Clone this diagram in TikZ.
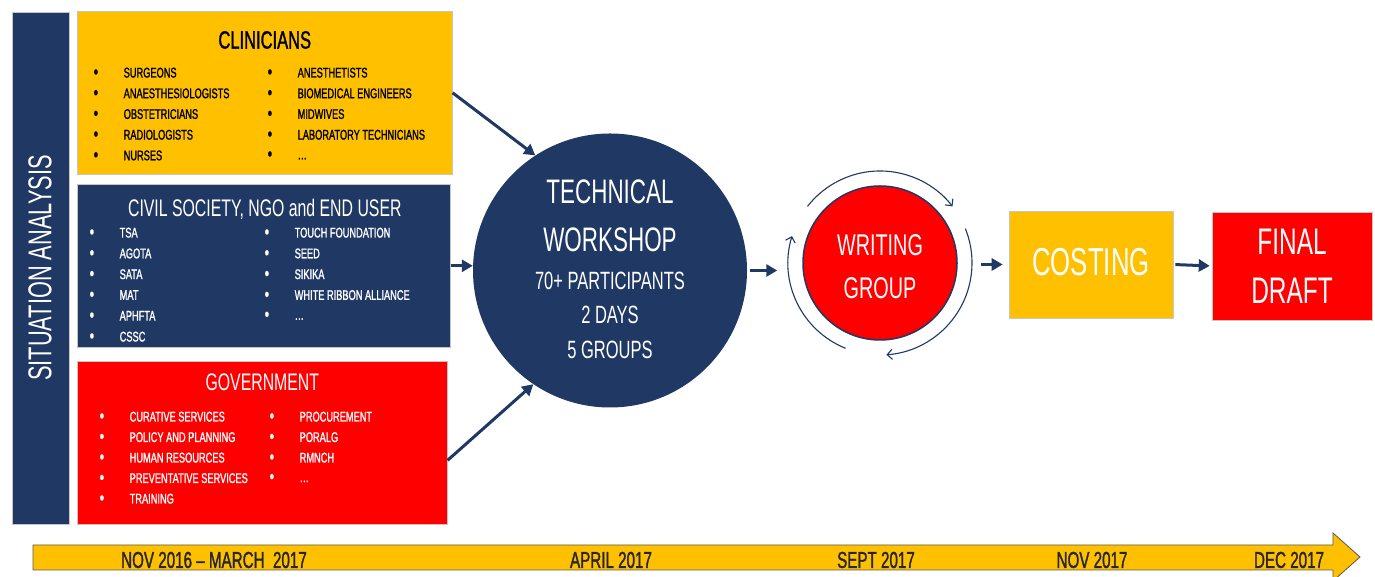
\documentclass[tikz,border=0pt]{standalone}
\usepackage{fontspec}
\setmainfont{Liberation Sans}[FakeStretch=0.66]
\newfontfamily\heavy{Liberation Sans}[FakeStretch=0.66, FakeBold=1.3]
\usetikzlibrary{arrows.meta, positioning}
\definecolor{navy}{HTML}{203864}
\definecolor{gold}{HTML}{FFC000}
\definecolor{scarlet}{HTML}{FF0000}
\newcommand{\bul}[1]{\makebox[30pt][l]{\raisebox{-0.8pt}{\fontsize{19}{19}\selectfont\textbullet}}#1}
\tikzset{
	panel/.style={rectangle, draw=gray!45, line width=0.6pt, inner sep=0pt},
	flow/.style={navy, line width=3pt, -{Triangle[length=11pt,width=12pt]}},
	turn/.style={navy, line width=1.1pt, -{Straight Barb[length=5pt,width=10pt]}},
	item/.style={anchor=west, inner sep=0pt, font=\heavy\fontsize{14}{16}\selectfont},
	txt/.style={inner sep=0pt},
}

\begin{document}
\begin{tikzpicture}[x=1pt,y=1pt]

\clip (0,0) rectangle (1375,577);
\fill[white] (0,0) rectangle (1375,577);

% left bar
\node [panel, fill=navy, anchor=north west, minimum width=57pt, minimum height=512pt] (sa) at (12,565) {};
\node [txt, rotate=90, white, font=\fontsize{33}{36}\selectfont] (sa-t) at (40,309) {SITUATION ANALYSIS};

% stakeholder groups
\node [panel, fill=gold, anchor=north west, minimum width=375pt, minimum height=163pt] (clin) at (77,566) {};
\node [panel, fill=navy, anchor=north west, minimum width=373pt, minimum height=163pt] (civ) at (77,393) {};
\node [panel, fill=scarlet, anchor=north west, minimum width=370pt, minimum height=163pt] (gov) at (77,216) {};

\node [txt, font=\heavy\fontsize{25}{28}\selectfont] (clin-t) at ([yshift=-29pt]clin.north) {CLINICIANS};
\node [txt, white, font=\fontsize{24}{28}\selectfont] (civ-t) at ([xshift=1pt,yshift=-25pt]civ.north) {CIVIL SOCIETY, NGO and END USER};
\node [txt, white, font=\fontsize{24}{28}\selectfont] (gov-t) at ([yshift=-21pt]gov.north) {GOVERNMENT};

\foreach \t [count=\r] in {SURGEONS, ANAESTHESIOLOGISTS, OBSTETRICIANS, RADIOLOGISTS, NURSES}
	\node [item] (clin-a\r) at ([shift={(16.5,{-41.3-20.7*\r})}]clin.north west) {\bul{\t}};
\foreach \t [count=\r] in {ANESTHETISTS, BIOMEDICAL ENGINEERS, MIDWIVES, LABORATORY TECHNICIANS, \ldots}
	\node [item] (clin-b\r) at ([shift={(190.5,{-41.3-20.7*\r})}]clin.north west) {\bul{\t}};

\foreach \t [count=\r] in {TSA, AGOTA, SATA, MAT, APHFTA, CSSC}
	\node [item, white] (civ-a\r) at ([shift={(12.5,{-28.2-20.8*\r})}]civ.north west) {\bul{\t}};
\foreach \t [count=\r] in {TOUCH FOUNDATION, SEED, SIKIKA, WHITE RIBBON ALLIANCE, \ldots}
	\node [item, white] (civ-b\r) at ([shift={(187.5,{-28.2-20.8*\r})}]civ.north west) {\bul{\t}};

\foreach \t [count=\r] in {CURATIVE SERVICES, POLICY AND PLANNING, HUMAN RESOURCES, PREVENTATIVE SERVICES, TRAINING}
	\node [item, white] (gov-a\r) at ([shift={(22.5,{-35.5-20.5*\r})}]gov.north west) {\bul{\t}};
\foreach \t [count=\r] in {PROCUREMENT, PORALG, RMNCH, \ldots}
	\node [item, white] (gov-b\r) at ([shift={(192.5,{-35.5-20.5*\r})}]gov.north west) {\bul{\t}};

% workshop
\node [circle, fill=navy, minimum size=274pt, inner sep=0pt] (tw) at (610,306.5) {};
\foreach \i/\dy/\s/\t in {1/78.5/34/TECHNICAL, 2/30.5/34/WORKSHOP, 3/-10.5/25/70+ PARTICIPANTS, 4/-44.5/25/2 DAYS, 5/-79.5/25/5 GROUPS}
	\node [txt, white, font=\fontsize{\s}{\s}\selectfont] (tw-l\i) at ([yshift=\dy]tw.center) {\t};

% writing group
\node [circle, fill=scarlet, draw=navy, line width=1.5pt, minimum size=154pt, inner sep=0pt] (wg) at (880,314) {};
\node [txt, white, font=\fontsize{30}{30}\selectfont] (wg-l1) at ([yshift=18pt]wg.center) {WRITING};
\node [txt, white, font=\fontsize{30}{30}\selectfont] (wg-l2) at ([yshift=-25pt]wg.center) {GROUP};

\draw [turn] ([shift={(142:92pt)}]wg.center) arc [start angle=142, end angle=38, radius=92pt];
\draw [turn] ([shift={(22:92pt)}]wg.center) arc [start angle=22, end angle=-86, radius=92pt];
\draw [turn] ([shift={(-112:92pt)}]wg.center) arc [start angle=-112, end angle=-197, radius=92pt];

% costing and final draft
\node [panel, fill=gold, minimum width=164pt, minimum height=107pt] (cost) at (1091,312.5) {};
\node [txt, white, font=\fontsize{39}{39}\selectfont] (cost-t) at ([yshift=2.5pt]cost.center) {COSTING};
\node [panel, fill=scarlet, minimum width=160pt, minimum height=108pt] (final) at (1292,311) {};
\node [txt, white, font=\fontsize{37}{37}\selectfont] (final-l1) at ([yshift=24pt]final.center) {FINAL};
\node [txt, white, font=\fontsize{37}{37}\selectfont] (final-l2) at ([yshift=-25pt]final.center) {DRAFT};

% arrows
\draw [flow] (clin.east) -- (tw.123);
\draw [flow] (civ.east) -- (civ.east -| tw.west);
\draw [flow] ([yshift=-17.5pt]gov.east) -- (tw.-124);
\draw [flow, shorten <=3pt, shorten >=25pt] (tw.east) -- (tw.east -| wg.west);
\draw [flow, shorten <=23pt, shorten >=6pt] (wg.east |- cost.west) -- (cost.west);
\draw [flow, shorten <=2pt, shorten >=2pt] (cost.east) -- (final.west);

% timeline
\draw [fill=gold, draw=black!65, line width=0.8pt] (33,7) -- (1333,7) -- (1333,-4) -- (1360,20) -- (1333,44) -- (1333,32) -- (33,32) -- cycle;
\foreach \i/\x/\t in {1/214/NOV 2016 – MARCH\ \ 2017, 2/611/APRIL 2017, 3/876/SEPT 2017, 4/1092/NOV 2017, 5/1289/DEC 2017}
	\node [txt, black!85, font=\heavy\fontsize{23}{23}\selectfont] (tl-\i) at (\x,17) {\t};

\end{tikzpicture}
\end{document}
